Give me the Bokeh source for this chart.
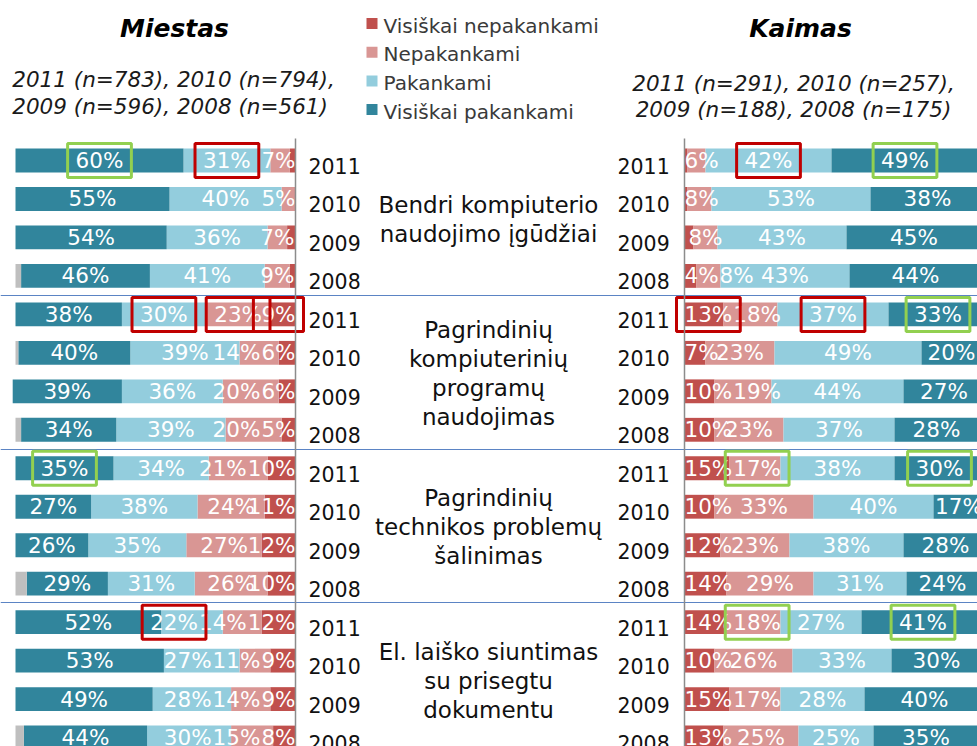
import numpy as np
from bokeh.plotting import figure
from bokeh.models import Range1d, ColumnDataSource
from bokeh.core.properties import value
from bokeh.embed import file_html
from bokeh.resources import INLINE

# ---------------- data ----------------
categories = ["Visiškai nepakankami", "Nepakankami", "Pakankami", "Visiškai pakankami"]
years = ["2011", "2010", "2009", "2008"]
group_titles = [
    ["Bendri kompiuterio", "naudojimo įgūdžiai"],
    ["Pagrindinių", "kompiuterinių", "programų", "naudojimas"],
    ["Pagrindinių", "technikos problemų", "šalinimas"],
    ["El. laiško siuntimas", "su prisegtu", "dokumentu"],
]
panel_titles = ["Miestas", "Kaimas"]
miestas_n = ["2011 (n=783), 2010 (n=794),", "2009 (n=596),  2008 (n=561)"]
kaimas_n = ["2011 (n=291), 2010 (n=257),", "2009 (n=188), 2008 (n=175)"]

# rows: group1 2011..2008, group2 2011..2008, ...
miestas_vis_nepak = [2, 0, 3, 2, 9, 6, 6, 5, 10, 11, 12, 10, 12, 9, 9, 8]
miestas_nepak = [7, 5, 7, 9, 23, 14, 20, 20, 21, 24, 27, 26, 14, 11, 14, 15]
miestas_pak = [31, 40, 36, 41, 30, 39, 36, 39, 34, 38, 35, 31, 22, 27, 28, 30]
miestas_vis_pak = [60, 55, 54, 46, 38, 40, 39, 34, 35, 27, 26, 29, 52, 53, 49, 44]
miestas_na = [0, 0, 0, 2, 0, 1, 0, 2, 0, 0, 0, 4, 0, 0, 0, 3]

kaimas_vis_nepak = [1, 1, 3, 4, 13, 7, 10, 10, 15, 10, 12, 14, 14, 10, 15, 13]
kaimas_nepak = [6, 8, 8, 8, 18, 23, 19, 23, 17, 33, 23, 29, 18, 26, 17, 25]
kaimas_pak = [42, 53, 43, 43, 37, 49, 44, 37, 38, 40, 38, 31, 27, 33, 28, 25]
kaimas_vis_pak = [49, 38, 45, 44, 33, 20, 27, 28, 30, 17, 28, 24, 41, 30, 40, 35]
kaimas_na = [0, 0, 0, 0, 0, 0, 0, 2, 0, 0, 0, 2, 0, 0, 0, 2]

# highlighted labels: (row, category index, kind)
miestas_marks = [(0, 3, "up"), (0, 2, "down"), (4, 2, "down"), (4, 1, "down"),
                 (4, 0, "down"), (8, 3, "up"), (12, 2, "down")]
kaimas_marks = [(0, 2, "down"), (0, 3, "up"), (4, 0, "down"), (4, 2, "down"),
                (4, 3, "up"), (8, 1, "up"), (8, 3, "up"), (12, 1, "up"), (12, 3, "up")]

# ---------------- style / layout ----------------
COLORS = ["#c0504d", "#d99694", "#93cddd", "#31859c", "#bfbfbf"]
MARK_COLORS = {"up": "#92d050", "down": "#c00000"}
FONT = value("DejaVu Sans")
FX0, FX1, FY0, FY1 = 0, 977, 0, 746
ROW0, ROWPX = 160.0, 38.47
L_AXIS, L_PPP = 295.0, -2.8
R_AXIS, R_PPP = 684.0, 3.0
BAR_H = 0.62
LBL_PX = 21.5
LABEL_MIN = 4

p = figure(width=FX1 - FX0, height=FY1 - FY0,
           x_range=Range1d(FX0, FX1), y_range=Range1d(FY1, FY0),
           x_axis_type=None, y_axis_type=None, toolbar_location=None,
           output_backend="svg", min_border=0, outline_line_color=None,
           background_fill_color="white", border_fill_color="white")
p.extra_x_ranges = {
    "L": Range1d((FX0 - L_AXIS) / L_PPP, (FX1 - L_AXIS) / L_PPP),
    "R": Range1d((FX0 - R_AXIS) / R_PPP, (FX1 - R_AXIS) / R_PPP),
}
p.extra_y_ranges = {"rows": Range1d((FY1 - ROW0) / ROWPX, (FY0 - ROW0) / ROWPX)}

nrows = len(miestas_pak)
rows = np.arange(nrows)

# separators between groups
p.hspan(y=[3.5, 7.5, 11.5], y_range_name="rows", line_color="#5b84c4", line_width=1.2)


def label_px(v):
    return LBL_PX * (0.636 * len(str(v)) + 0.95)


def draw_panel(cols, rng, ppp, marks):
    mat = np.array(cols, dtype=float)  # 5 x nrows
    ends = np.cumsum(mat, axis=0)
    starts = ends - mat
    for k in range(mat.shape[0]):
        src = ColumnDataSource(dict(y=rows, left=starts[k], right=ends[k]))
        p.hbar(y="y", left="left", right="right", height=BAR_H, source=src,
               fill_color=COLORS[k], line_color=None,
               x_range_name=rng, y_range_name="rows")
    # labels
    lx, ly, lt = [], [], []
    centers_of = {}
    app = abs(ppp)
    for i in range(nrows):
        idx = [k for k in range(4) if mat[k, i] >= LABEL_MIN]
        c = [(starts[k, i] + ends[k, i]) / 2 for k in idx]
        w = [label_px(int(mat[k, i])) / app for k in idx]
        gap = 1.0 / app
        hi = ends[3, i]
        for _ in range(200):
            moved = False
            for j in range(len(idx) - 1):
                need = (w[j] + w[j + 1]) / 2 + gap
                d = c[j + 1] - c[j]
                if d < need - 1e-6:
                    s = (need - d) / 2
                    c[j] -= s
                    c[j + 1] += s
                    moved = True
            if c:
                c[0] = max(c[0], w[0] / 2)
                c[-1] = min(c[-1], hi - w[-1] / 2)
            if not moved:
                break
        for k, cc in zip(idx, c):
            lx.append(cc)
            ly.append(i)
            lt.append(f"{int(mat[k, i])}%")
            centers_of[(i, k)] = cc
    src = ColumnDataSource(dict(x=lx, y=ly, t=lt))
    p.text(x="x", y="y", text="t", source=src, text_color="white",
           text_font=FONT, text_font_size=f"{LBL_PX}px", text_align="center",
           text_baseline="middle", x_range_name=rng, y_range_name="rows")
    # highlight boxes
    bx, by, bw, bc = [], [], [], []
    for (i, k, kind) in marks:
        bx.append(centers_of[(i, k)])
        by.append(i)
        bw.append((label_px(int(mat[k, i])) + 16) / app)
        bc.append(MARK_COLORS[kind])
    src = ColumnDataSource(dict(x=bx, y=by, w=bw, c=bc))
    p.rect(x="x", y="y", width="w", height=34 / ROWPX, source=src,
           fill_color=None, line_color="c", line_width=3,
           x_range_name=rng, y_range_name="rows")
    # axis line
    p.segment(x0=[0], y0=[(138 - ROW0) / ROWPX], x1=[0], y1=[nrows + 1],
              line_color="#8c8c8c", line_width=1.5,
              x_range_name=rng, y_range_name="rows")


draw_panel([miestas_vis_nepak, miestas_nepak, miestas_pak, miestas_vis_pak, miestas_na],
           "L", L_PPP, miestas_marks)
draw_panel([kaimas_vis_nepak, kaimas_nepak, kaimas_pak, kaimas_vis_pak, kaimas_na],
           "R", R_PPP, kaimas_marks)

# year labels
yl_y = [i + 5.5 / ROWPX for i in rows]
yl_t = [years[i % 4] for i in rows]
for xpos in (308, 617):
    p.text(x=[xpos] * nrows, y=yl_y, text=yl_t, text_color="#111111",
           text_font=FONT, text_font_size="20.5px", text_align="left",
           text_baseline="middle", y_range_name="rows")

# group titles
gx, gy, gt = [], [], []
for g, lines in enumerate(group_titles):
    center = g * 4 + 1.5
    n = len(lines)
    for j, line in enumerate(lines):
        gx.append(488)
        gy.append(center + ((j - (n - 1) / 2) * 29 + 1.5) / ROWPX)
        gt.append(line)
p.text(x=gx, y=gy, text=gt, text_color="#111111", text_font=FONT,
       text_font_size="23px", text_align="center", text_baseline="middle",
       y_range_name="rows")

# panel headers
p.text(x=[174, 800], y=[28, 28], text=panel_titles, text_color="black",
       text_font=FONT, text_font_size="25px", text_font_style="bold italic",
       text_align="center", text_baseline="middle")
p.text(x=[173, 173], y=[79, 106], text=miestas_n, text_color="#1a1a1a",
       text_font=FONT, text_font_size="21.5px", text_font_style="italic",
       text_align="center", text_baseline="middle")
p.text(x=[793, 793], y=[83, 109], text=kaimas_n, text_color="#1a1a1a",
       text_font=FONT, text_font_size="21.5px", text_font_style="italic",
       text_align="center", text_baseline="middle")

# legend
leg_y = [24 + 28.7 * k for k in range(4)]
p.rect(x=[371.5] * 4, y=[v - 1 for v in leg_y], width=11, height=11,
       fill_color=COLORS[:4], line_color=None)
p.text(x=[383] * 4, y=[v + 1 for v in leg_y], text=categories, text_color="#3a3a3a",
       text_font=FONT, text_font_size="20px", text_align="left",
       text_baseline="middle")

open("out.html", "w").write(file_html(p, INLINE))
